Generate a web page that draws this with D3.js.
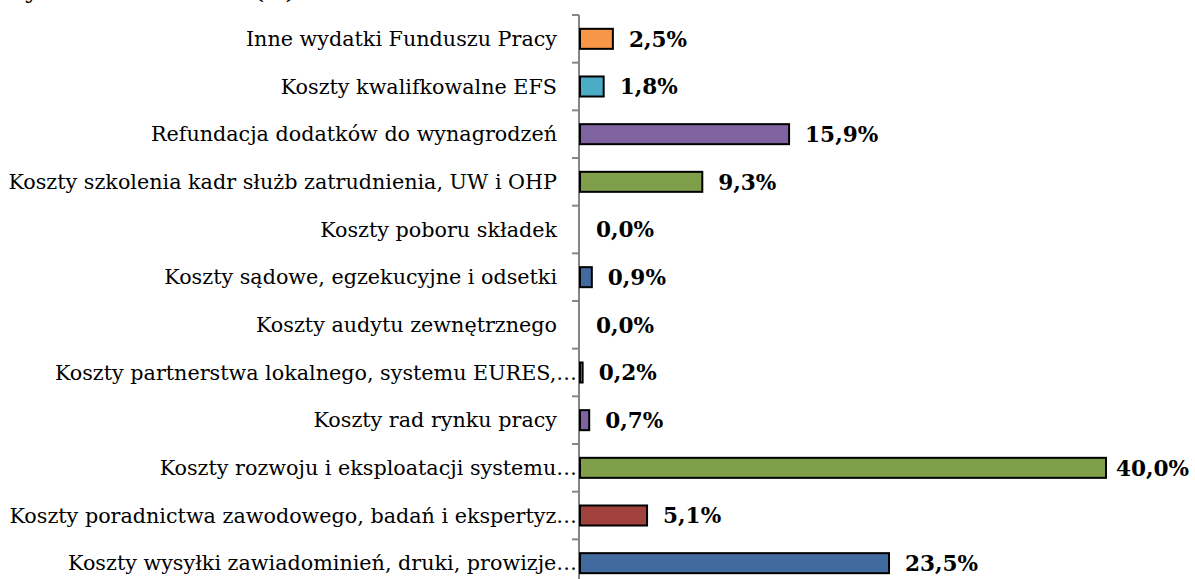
<!DOCTYPE html>
<html><head><meta charset="utf-8">
<script src="https://cdn.jsdelivr.net/npm/d3@7"></script>
<style>
html,body{margin:0;padding:0;background:#fff;}
svg{display:block;}
</style></head>
<body>
<script>
const categories = [
  "Inne wydatki Funduszu Pracy",
  "Koszty kwalifkowalne EFS",
  "Refundacja dodatków do wynagrodzeń",
  "Koszty szkolenia kadr służb zatrudnienia, UW i OHP",
  "Koszty poboru składek",
  "Koszty sądowe, egzekucyjne i odsetki",
  "Koszty audytu zewnętrznego",
  "Koszty partnerstwa lokalnego, systemu EURES,…",
  "Koszty rad rynku pracy",
  "Koszty rozwoju i eksploatacji systemu…",
  "Koszty poradnictwa zawodowego, badań i ekspertyz…",
  "Koszty wysyłki zawiadominień, druki, prowizje…"
];
const values = [2.5, 1.8, 15.9, 9.3, 0.0, 0.9, 0.0, 0.2, 0.7, 40.0, 5.1, 23.5];
const valueLabels = ["2,5%","1,8%","15,9%","9,3%","0,0%","0,9%","0,0%","0,2%","0,7%","40,0%","5,1%","23,5%"];
const palette = ["#F79646","#4BACC6","#8064A2","#7F9F4B","#A0413E","#416A9F"];
const titleText = "Wydatki na zadania (%)";

const W = 1195, H = 579;
const svg = d3.select("body").append("svg").attr("width", W).attr("height", H);

const x0 = 579;
const x = d3.scaleLinear().domain([0, 40]).range([x0, 1105]);
const y = d3.scaleBand().domain(categories).range([15, 587]).paddingInner(0.58).paddingOuter(0.29);

// title (cut off at top, as in the reference)
const title = svg.append("text").attr("x", 0).attr("y", -1)
  .attr("font-family", "DejaVu Serif").attr("font-weight", "bold").attr("font-size", 21)
  .attr("fill", "#000").text(titleText);
const tw = title.node().getComputedTextLength();
if (tw > 0) title.attr("textLength", 296).attr("lengthAdjust", "spacingAndGlyphs");

// axis ticks at band boundaries
const step = y.step();
const bounds = d3.range(categories.length + 1).map(i => 15 + i * step);
svg.append("line").attr("x1", x0).attr("x2", x0).attr("y1", 15).attr("y2", H)
  .attr("stroke", "#868686").attr("stroke-width", 2);
svg.selectAll("line.tick").data(bounds).join("line").attr("class","tick")
  .attr("x1", x0 - 7).attr("x2", x0).attr("y1", d => d).attr("y2", d => d)
  .attr("stroke", "#868686").attr("stroke-width", 2);

// bars
svg.selectAll("rect.bar").data(categories).join("rect").attr("class","bar")
  .attr("x", x0 + 1)
  .attr("y", d => y(d))
  .attr("width", (d,i) => Math.max(0, x(values[i]) - x0))
  .attr("height", y.bandwidth())
  .attr("fill", (d,i) => palette[i % 6])
  .attr("stroke", "#000").attr("stroke-width", 2)
  .attr("display", (d,i) => values[i] > 0 ? null : "none");

// category labels
svg.selectAll("text.cat").data(categories).join("text").attr("class","cat")
  .attr("x", d => d.endsWith("…") ? 577 : 557)
  .attr("y", d => y(d) + y.bandwidth()/2)
  .attr("dy", "0.35em")
  .attr("text-anchor", "end")
  .attr("font-family", "DejaVu Serif").attr("font-size", 20.7)
  .attr("fill", "#000")
  .text(d => d);

// value labels
svg.selectAll("text.val").data(categories).join("text").attr("class","val")
  .attr("x", (d,i) => Math.min(x(values[i]) + 17, 1116))
  .attr("y", d => y(d) + y.bandwidth()/2)
  .attr("dy", "0.37em")
  .attr("font-family", "DejaVu Serif").attr("font-weight", "bold").attr("font-size", 21.6)
  .attr("fill", "#000")
  .text((d,i) => valueLabels[i]);
</script>
</body></html>
